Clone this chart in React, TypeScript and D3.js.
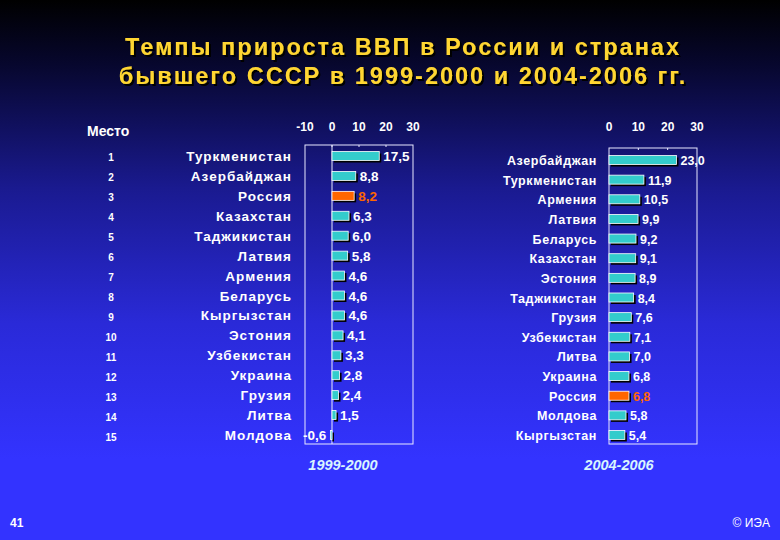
import React from 'react';
import * as d3 from 'd3';

// 1999-2000
const countries1 = ['Туркменистан', 'Азербайджан', 'Россия', 'Казахстан', 'Таджикистан', 'Латвия', 'Армения', 'Беларусь', 'Кыргызстан', 'Эстония', 'Узбекистан', 'Украина', 'Грузия', 'Литва', 'Молдова'];
const values1 = [17.5, 8.8, 8.2, 6.3, 6.0, 5.8, 4.6, 4.6, 4.6, 4.1, 3.3, 2.8, 2.4, 1.5, -0.6];
const ticks1 = [-10, 0, 10, 20, 30];

// 2004-2006
const countries2 = ['Азербайджан', 'Туркменистан', 'Армения', 'Латвия', 'Беларусь', 'Казахстан', 'Эстония', 'Таджикистан', 'Грузия', 'Узбекистан', 'Литва', 'Украина', 'Россия', 'Молдова', 'Кыргызстан'];
const values2 = [23.0, 11.9, 10.5, 9.9, 9.2, 9.1, 8.9, 8.4, 7.6, 7.1, 7.0, 6.8, 6.8, 5.8, 5.4];
const ticks2 = [0, 10, 20, 30];

const ranks = d3.range(1, 16);
const titleLines = ['Темпы прироста ВВП в России и странах', 'бывшего СССР в 1999-2000 и 2004-2006 гг.'];

const W = 780;
const H = 540;
const font = '"Liberation Sans", Arial, sans-serif';
const teal = '#33cccc';
const orange = '#ff6600';

const fmt = (v: number) => v.toFixed(1).replace('.', ',');

type PanelProps = {
  countries: string[];
  values: number[];
  ticks: number[];
  x0: number;
  x1: number;
  top: number;
  bottom: number;
  rowTop: number;
  rowBottom: number;
  labelX: number;
  labelSize: number;
  labelSpacing: number;
  period: string;
  periodX: number;
  domain: [number, number];
  showZeroLine: boolean;
};

const Panel = (p: PanelProps) => {
  const x = d3.scaleLinear().domain(p.domain).range([p.x0, p.x1]);
  const y = d3.scalePoint<string>().domain(p.countries).range([p.rowTop, p.rowBottom]);
  const bh = 9;
  return (
    <g>
      {p.ticks.map(t => (
        <text key={t} x={x(t)} y={131} fill="#fff" fontFamily={font} fontWeight="bold" fontSize={12} textAnchor="middle">{t}</text>
      ))}
      <rect x={p.x0} y={p.top} width={p.x1 - p.x0} height={p.bottom - p.top} fill="none" stroke="#e8e8ff" strokeWidth={1} />
      {p.showZeroLine && <line x1={x(0)} x2={x(0)} y1={p.top} y2={p.bottom} stroke="#e8e8ff" strokeWidth={1} />}
      {p.ticks.slice(1, -1).map(t => (
        <line key={t} x1={x(t)} x2={x(t)} y1={p.top} y2={p.top + 2} stroke="#e8e8ff" />
      ))}
      {p.countries.map((c, i) => {
        const v = p.values[i];
        const cy = y(c) as number;
        const isRu = c === 'Россия';
        const bx = Math.min(x(0), x(v));
        const bw = Math.abs(x(v) - x(0));
        return (
          <g key={c}>
            <text x={p.labelX} y={cy + 5} fill="#fff" fontFamily={font} fontWeight="bold" fontSize={p.labelSize} letterSpacing={p.labelSpacing} textAnchor="end">{c}</text>
            <rect x={bx + 2} y={cy - bh / 2 + 2} width={bw} height={bh} fill="#000" />
            <rect x={bx} y={cy - bh / 2} width={bw} height={bh} fill={isRu ? orange : teal} stroke="#ffffff" strokeWidth={0.8} />
            <text
              x={v >= 0 ? x(v) + 4 : x(v) - 4}
              y={cy + 5}
              fill={isRu ? orange : '#fff'}
              fontFamily={font}
              fontWeight="bold"
              fontSize={p.labelSize}
              textAnchor={v >= 0 ? 'start' : 'end'}
            >{fmt(v)}</text>
          </g>
        );
      })}
      <text x={p.periodX} y={470} fill="#d8f4ff" fontFamily={font} fontWeight="bold" fontStyle="italic" fontSize={14.5} textAnchor="middle">{p.period}</text>
    </g>
  );
};

const App = () => {
  return (
    <svg width={W} height={H} style={{ position: 'absolute', left: 0, top: 0, display: 'block' }}>
      <defs>
        <linearGradient id="bg" x1="0" y1="0" x2="0" y2="1">
          <stop offset="0" stopColor="#000000" />
          <stop offset="0.12" stopColor="#07072e" />
          <stop offset="0.35" stopColor="#1a1a90" />
          <stop offset="0.6" stopColor="#2a2ad8" />
          <stop offset="0.85" stopColor="#3333ff" />
          <stop offset="1" stopColor="#3333ff" />
        </linearGradient>
        <filter id="shadow" x="-5%" y="-30%" width="110%" height="160%">
          <feDropShadow dx="2" dy="2" stdDeviation="0.6" floodColor="#000" floodOpacity="1" />
        </filter>
      </defs>
      <rect width={W} height={H} fill="url(#bg)" />

      {titleLines.map((t, i) => (
        <text key={t} x={403} y={55 + i * 29} fill="#ffd633" fontFamily={font} fontWeight="bold" fontSize={23.5} letterSpacing={2} textAnchor="middle" filter="url(#shadow)">{t}</text>
      ))}

      <text x={87} y={136} fill="#fff" fontFamily={font} fontWeight="bold" fontSize={14}>Место</text>
      {ranks.map((r, i) => (
        <text key={r} x={111} y={d3.scaleLinear().domain([0, 14]).range([161, 441])(i)} fill="#fff" fontFamily={font} fontWeight="bold" fontSize={10} textAnchor="middle">{r}</text>
      ))}

      <Panel
        countries={countries1}
        values={values1}
        ticks={ticks1}
        domain={[-10, 30]}
        x0={305}
        x1={413}
        top={145}
        bottom={444}
        rowTop={156}
        rowBottom={435}
        labelX={292}
        labelSize={13.5}
        labelSpacing={1}
        period="1999-2000"
        periodX={343}
        showZeroLine={true}
      />
      <Panel
        countries={countries2}
        values={values2}
        ticks={ticks2}
        domain={[0, 30]}
        x0={609}
        x1={697}
        top={148}
        bottom={444}
        rowTop={160}
        rowBottom={435}
        labelX={597}
        labelSize={12.5}
        labelSpacing={0.6}
        period="2004-2006"
        periodX={619}
        showZeroLine={false}
      />

      <text x={10} y={527} fill="#fff" fontFamily={font} fontWeight="bold" fontSize={12}>41</text>
      <text x={770} y={527} fill="#fff" fontFamily={font} fontSize={12} textAnchor="end">© ИЭА</text>
    </svg>
  );
};

export default App;
